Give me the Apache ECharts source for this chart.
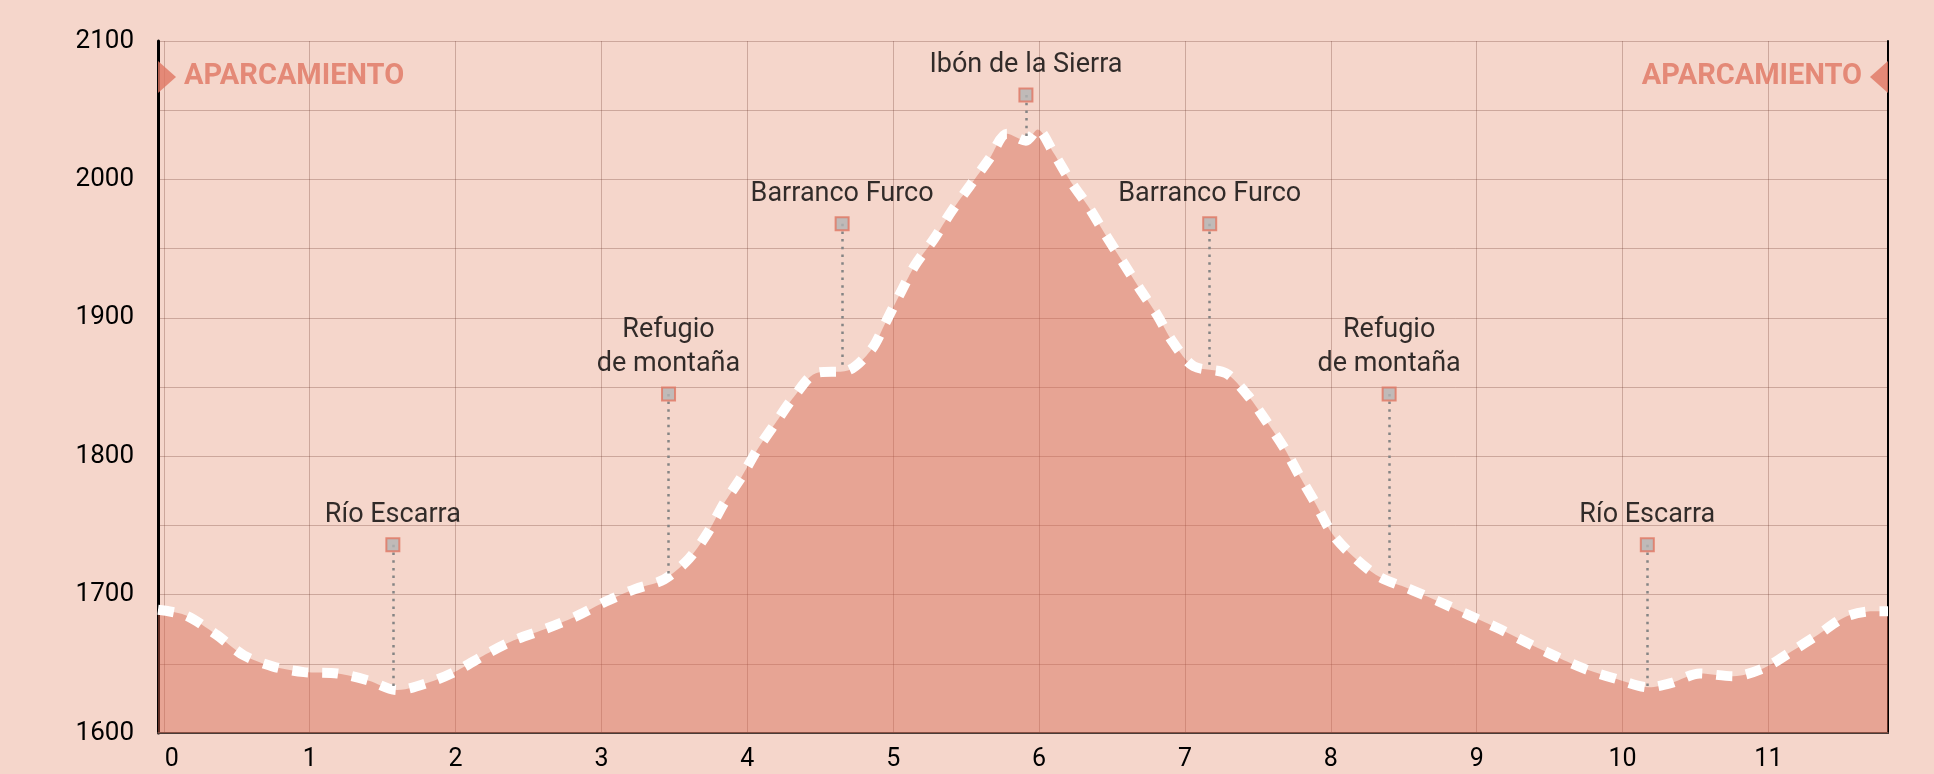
<!DOCTYPE html>
<html>
<head>
<meta charset="utf-8">
<style>
html, body { margin: 0; padding: 0; background: #f5d6cb; }
#chart { width: 1934px; height: 774px; }
</style>
<script src="https://cdn.jsdelivr.net/npm/echarts@6/dist/echarts.min.js"></script>
</head>
<body>
<div id="chart"></div>
<script>
// perfil: distancia (km) / altitud (m)
var distKm = [-0.04, 0.15, 0.36, 0.55, 0.75, 0.96, 1.19, 1.40, 1.60, 1.83,
    2.01, 2.21, 2.40, 2.61, 2.82, 3.03, 3.23, 3.43, 3.60, 3.73,
    3.84, 3.96, 4.07, 4.20, 4.32, 4.47, 4.69, 4.85, 4.95, 5.05,
    5.15, 5.28, 5.40, 5.53, 5.66, 5.78, 5.91, 5.99, 6.10, 6.22,
    6.34, 6.45, 6.57, 6.69, 6.81, 6.92, 7.06, 7.28, 7.43, 7.56,
    7.68, 7.79, 7.90, 8.01, 8.16, 8.33, 8.54, 8.74, 8.95, 9.14,
    9.35, 9.55, 9.75, 9.96, 10.18, 10.33, 10.53, 10.76, 10.97, 11.16,
    11.34, 11.53, 11.72, 11.82];
var elevM = [1689, 1685, 1671, 1656, 1648, 1644, 1643, 1638, 1631, 1637,
    1645, 1657, 1667, 1675, 1684, 1695, 1704, 1711, 1726, 1745,
    1766, 1785, 1805, 1825, 1843, 1860, 1862, 1877, 1897, 1918,
    1938, 1957, 1977, 1996, 2015, 2033, 2028, 2036, 2019, 1998,
    1980, 1961, 1941, 1921, 1902, 1882, 1865, 1860, 1844, 1825,
    1806, 1785, 1765, 1744, 1727, 1713, 1704, 1695, 1685, 1676,
    1665, 1655, 1646, 1639, 1633, 1636, 1643, 1641, 1647, 1659,
    1671, 1684, 1688, 1688];

// puntos de interés
var poiNames = ['Río Escarra', 'Refugio\nde montaña', 'Barranco Furco', 'Ibón de la Sierra',
    'Barranco Furco', 'Refugio\nde montaña', 'Río Escarra'];
var poiKm = [1.57, 3.46, 4.65, 5.91, 7.17, 8.40, 10.17];
var poiMarkElev = [1736, 1845, 1968, 2061, 1968, 1845, 1736];
var poiGroundElev = [1631, 1714, 1864, 2029, 1864, 1713, 1634];

// aparcamiento (inicio y fin)
var parkingLabel = 'APARCAMIENTO';
var parkingKm = [-0.04, 11.82];
var parkingElev = 2074;

var xMin = -0.04, xMax = 11.82;
var yMin = 1600, yMax = 2100;

var FONT = 'Roboto';
var RED = '#e07562';

var profileData = distKm.map(function (d, i) { return [d, elevM[i]]; });

var poiData = poiNames.map(function (n, i) {
    return { name: n, value: [poiKm[i], poiMarkElev[i]] };
});

var poiLines = poiKm.map(function (k, i) {
    return [{ coord: [k, poiMarkElev[i]] }, { coord: [k, poiGroundElev[i]] }];
});

var parkingData = [
    {
        name: parkingLabel,
        value: [parkingKm[0], parkingElev],
        symbol: 'path://M0,0 L18,16 L0,32 Z',
        symbolOffset: [9, 0],
        label: { position: 'right' }
    },
    {
        name: parkingLabel,
        value: [parkingKm[1], parkingElev],
        symbol: 'path://M18,0 L0,16 L18,32 Z',
        symbolOffset: [-9, 0],
        label: { position: 'left' }
    }
];

var myChart = echarts.init(document.getElementById('chart'));

var option = {
    backgroundColor: '#f5d6cb',
    animation: false,
    grid: { left: 158, right: 46, top: 41, bottom: 41 },
    xAxis: {
        type: 'value',
        min: xMin,
        max: xMax,
        minInterval: 1,
        maxInterval: 1,
        axisLine: { show: true, lineStyle: { color: '#4a3c38', width: 2 } },
        axisTick: { show: false },
        axisLabel: {
            color: '#000',
            fontFamily: FONT,
            fontSize: 25,
            margin: 14,
            formatter: function (v) {
                if (Math.abs(v - Math.round(v)) > 1e-6) return '';
                var n = Math.round(v);
                return n === 0 ? '{first|0}' : String(n);
            },
            rich: {
                first: { fontFamily: FONT, fontSize: 25, color: '#000', padding: [0, 0, 0, 16] }
            }
        },
        splitLine: { show: true, lineStyle: { color: 'rgba(110,60,50,0.3)', width: 1 } }
    },
    yAxis: [{
        type: 'value',
        min: yMin,
        max: yMax,
        interval: 50,
        axisLine: { show: true, onZero: false, lineStyle: { color: '#000', width: 3 } },
        axisTick: { show: false },
        axisLabel: {
            color: '#000',
            fontFamily: FONT,
            fontSize: 26,
            margin: 24,
            formatter: function (v) { return v % 100 === 0 ? String(v) : ''; }
        },
        splitLine: { show: true, lineStyle: { color: 'rgba(110,60,50,0.3)', width: 1 } }
    }, {
        type: 'value',
        position: 'right',
        min: yMin,
        max: yMax,
        interval: 50,
        axisLine: { show: true, onZero: false, lineStyle: { color: '#000', width: 2 } },
        axisTick: { show: false },
        axisLabel: { show: false },
        splitLine: { show: false }
    }],
    series: [
        {
            type: 'line',
            data: profileData,
            smooth: 0.3,
            symbol: 'none',
            z: 2,
            lineStyle: { color: '#fff', width: 10, type: [16, 14], cap: 'butt' },
            areaStyle: { color: 'rgba(216,105,83,0.45)', opacity: 1, origin: 'start' },
            silent: true
        },
        {
            type: 'scatter',
            data: poiData,
            symbol: 'rect',
            symbolSize: 13,
            z: 6,
            itemStyle: { color: '#b3b3b3', borderColor: RED, borderWidth: 2 },
            label: {
                show: true,
                position: 'top',
                distance: 5,
                formatter: '{b}',
                color: '#000',
                fontFamily: FONT,
                fontSize: 27,
                lineHeight: 34,
                align: 'center'
            },
            markLine: {
                z: 3,
                silent: true,
                symbol: 'none',
                label: { show: false },
                lineStyle: { color: '#858585', width: 2.5, type: [2.5, 5.2] },
                data: poiLines
            }
        },
        {
            type: 'scatter',
            data: parkingData,
            symbolSize: [18, 32],
            z: 6,
            itemStyle: { color: RED },
            label: {
                show: true,
                distance: 8,
                formatter: '{b}',
                color: RED,
                fontFamily: FONT,
                fontWeight: 'bold',
                fontSize: 29
            }
        }
    ]
};

myChart.setOption(option);
</script>
</body>
</html>
